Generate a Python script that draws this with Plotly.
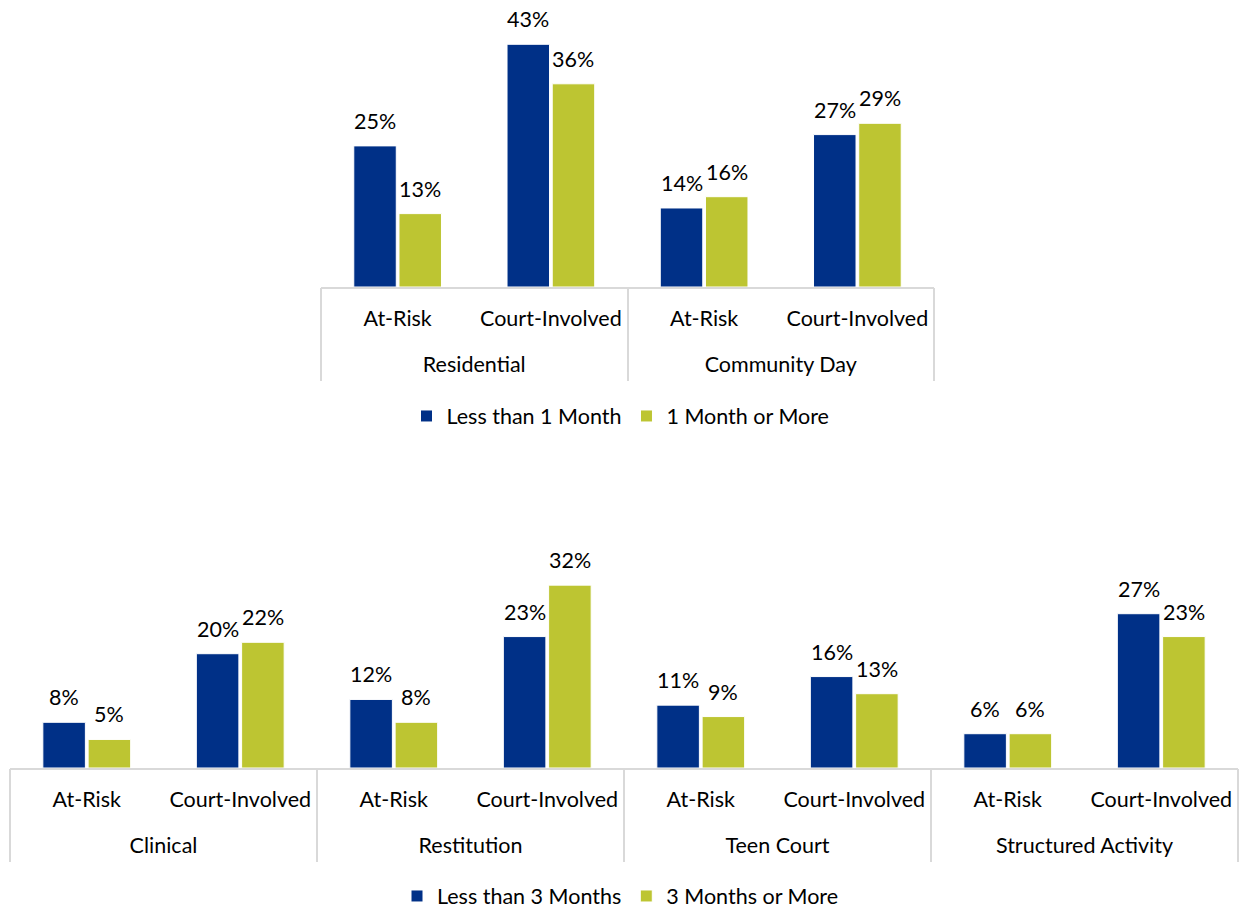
import plotly.graph_objects as go

# Program length panel (months)
top_groups = ["Residential", "Community Day"]
top_subs = ["At-Risk", "Court-Involved", "At-Risk", "Court-Involved"]
top_less_1 = [25, 43, 14, 27]
top_more_1 = [13, 36, 16, 29]

# Service length panel
bot_groups = ["Clinical", "Restitution", "Teen Court", "Structured Activity"]
bot_subs = ["At-Risk", "Court-Involved"] * 4
bot_less_3 = [8, 20, 12, 23, 11, 16, 6, 27]
bot_more_3 = [5, 22, 8, 32, 9, 13, 6, 23]

BLUE = "#003087"
GREEN = "#BDC532"
GRID = "#D9D9D9"
FONT = "Lato"
FS = 21.5

W, H = 1241, 910
BARGAP = 0.41


def px_x(a, b):
    return [a / W, b / W]


def px_y(top, bottom):
    return [1 - bottom / H, 1 - top / H]


fig = go.Figure()
layout = {}


def add_panel(n, groups, subs, a, b, names, legend, xdom, ydom, ymax):
    xa, ya = f"x{n}" if n > 1 else "x", f"y{n}" if n > 1 else "y"
    xk, yk = f"xaxis{n}" if n > 1 else "xaxis", f"yaxis{n}" if n > 1 else "yaxis"
    # two extra overlaying axes: group labels and group dividers
    ga, da = f"x{n + 2}", f"x{n + 4}"
    gk, dk = f"xaxis{n + 2}", f"xaxis{n + 4}"
    pos = list(range(len(subs)))
    per_group = len(subs) // len(groups)
    xr = [-0.5, len(subs) - 0.5]
    cat_px = (xdom[1] - xdom[0]) / len(subs)
    slot = cat_px * (1 - BARGAP) / 2

    for vals, name, color, shift in ((a, names[0], BLUE, -slot / 2),
                                     (b, names[1], GREEN, slot / 2)):
        fig.add_trace(go.Bar(
            x=pos, y=vals, name=name, xaxis=xa, yaxis=ya, legend=legend,
            marker=dict(color=color, line=dict(color="white", width=1)),
            hoverinfo="skip",
        ))
        # value labels sit above each bar, positioned from the bar's own value
        for i, v in zip(pos, vals):
            fig.add_annotation(
                x=i, y=v, xref=xa, yref=ya, text=f"{v}%", showarrow=False,
                xshift=shift, yshift=25, yanchor="middle",
                font=dict(family=FONT, size=FS, color="black"),
            )

    centers = [g * per_group + (per_group - 1) / 2 for g in range(len(groups))]
    bounds = [g * per_group - 0.5 for g in range(len(groups) + 1)]
    # empty carriers so the overlaying axes get drawn
    for axis, xs in ((ga, centers), (da, bounds)):
        fig.add_trace(go.Scatter(x=xs, y=[0] * len(xs), xaxis=axis, yaxis=ya,
                                 mode="markers", marker=dict(opacity=0),
                                 showlegend=False, hoverinfo="skip"))

    tickfont = dict(family=FONT, size=FS, color="black")
    layout[xk] = dict(domain=px_x(*xdom), anchor=ya, range=xr, showline=True,
                      linecolor=GRID, linewidth=1.5, ticks="", tickmode="array",
                      tickvals=pos, ticktext=subs, ticklabelstandoff=11,
                      tickfont=tickfont, showgrid=False, zeroline=False)
    layout[gk] = dict(overlaying=xa, anchor=ya, range=xr, showline=False,
                      ticks="", tickmode="array", tickvals=centers, ticktext=groups,
                      ticklabelstandoff=62, tickfont=tickfont, side="bottom",
                      showgrid=False, zeroline=False)
    layout[dk] = dict(overlaying=xa, anchor=ya, range=xr, showline=False,
                      ticks="outside", ticklen=93, tickwidth=1.5, tickcolor=GRID,
                      tickmode="array", tickvals=bounds, showticklabels=False,
                      side="bottom", showgrid=False, zeroline=False)
    layout[yk] = dict(domain=px_y(*ydom), anchor=xa, range=[0, ymax], visible=False,
                      showgrid=False, zeroline=False)


add_panel(1, top_groups, top_subs, top_less_1, top_more_1,
          ("Less than 1 Month", "1 Month or More"), "legend",
          (321, 934), (33, 287), 45)
add_panel(2, bot_groups, bot_subs, bot_less_3, bot_more_3,
          ("Less than 3 Months", "3 Months or More"), "legend2",
          (10, 1238), (568, 768), 35)

legcommon = dict(orientation="h", xanchor="center", x=0.5, yanchor="middle",
                 font=dict(family=FONT, size=FS, color="black"),
                 itemwidth=30, traceorder="normal", bgcolor="rgba(0,0,0,0)")

fig.update_layout(
    width=W, height=H,
    margin=dict(l=0, r=0, t=0, b=0, autoexpand=False),
    paper_bgcolor="white", plot_bgcolor="white",
    barmode="group", bargap=BARGAP, bargroupgap=0.06,
    font=dict(family=FONT, size=FS, color="black"),
    legend=dict(y=1 - 416 / H, **legcommon),
    legend2=dict(y=1 - 896 / H, **legcommon),
    **layout,
)

fig.write_html("out.html")
